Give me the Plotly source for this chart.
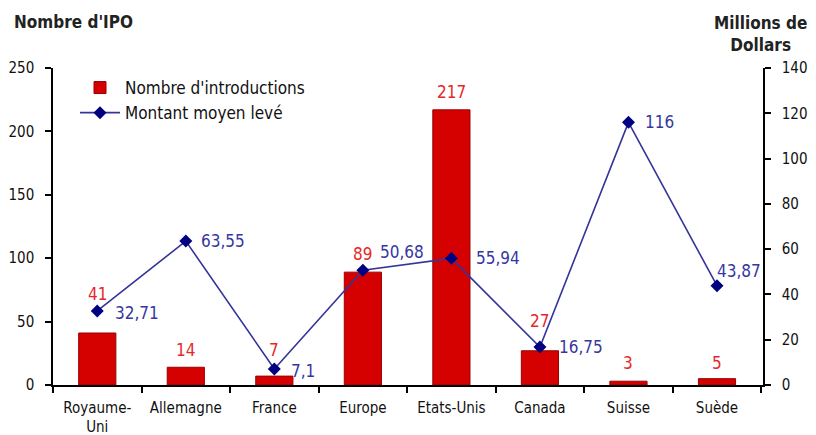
import plotly.graph_objects as go

categories = ["Royaume-<br>Uni", "Allemagne", "France", "Europe", "Etats-Unis", "Canada", "Suisse", "Suède"]
nombre_ipo = [41, 14, 7, 89, 217, 27, 3, 5]
montant_moyen = [32.71, 63.55, 7.1, 50.68, 55.94, 16.75, 116, 43.87]
montant_labels = ["32,71", "63,55", "7,1", "50,68", "55,94", "16,75", "116", "43,87"]

# label offsets (style only, in pixels)
bar_label_shift = [39, 17, 26, 18, 18, 30, 18, 16]
line_label_dx = [16, 13, 15, 15, 23, 17, 15, -2]
line_label_dy = [-2, 0, -2, 18, 0, 0, 0, 15]

FONT = "DejaVu Sans Condensed, DejaVu Sans, sans-serif"
PLOT_L, PLOT_R, PLOT_T, PLOT_B = 53, 763, 68, 385
PW, PH = PLOT_R - PLOT_L, PLOT_B - PLOT_T


def px(ax):
    return (ax - PLOT_L) / PW


def py(ay):
    return (PLOT_B - ay) / PH


fig = go.Figure()
fig.add_trace(go.Bar(
    x=categories, y=nombre_ipo, name="Nombre d'introductions",
    marker=dict(color="#d50000", line=dict(color="#9a0000", width=1)),
    width=0.42,
))
fig.add_trace(go.Scatter(
    x=categories, y=montant_moyen, name="Montant moyen levé", yaxis="y2",
    mode="lines+markers",
    line=dict(color="#34349a", width=1.6),
    marker=dict(symbol="diamond", size=10, color="#000080"),
    cliponaxis=False,
))

annotations = []
for c, v, s in zip(categories, nombre_ipo, bar_label_shift):
    annotations.append(dict(x=c, y=v, xref="x", yref="y", text=str(v), showarrow=False,
                            xanchor="center", yanchor="middle", yshift=s,
                            font=dict(color="#e8262a", size=17, family=FONT)))
for c, v, t, dx, dy in zip(categories, montant_moyen, montant_labels, line_label_dx, line_label_dy):
    annotations.append(dict(x=c, y=v, xref="x", yref="y2", text=t, showarrow=False,
                            xanchor="left", yanchor="middle", xshift=dx, yshift=dy,
                            font=dict(color="#3636a0", size=17, family=FONT)))
annotations.append(dict(text="<b>Nombre d'IPO</b>", x=px(12), y=py(22), xref="paper", yref="paper",
                        showarrow=False, xanchor="left", yanchor="middle",
                        font=dict(size=17, family=FONT, color="#222")))
annotations.append(dict(text="<b>Millions de<br>Dollars</b>", x=px(760), y=py(34), xref="paper", yref="paper",
                        showarrow=False, xanchor="center", yanchor="middle",
                        font=dict(size=17, family=FONT, color="#222")))

# page body has an 8px margin, so shrink the figure to keep the plot in place
fig.update_layout(
    width=808, height=427,
    margin=dict(l=PLOT_L - 8, r=816 - PLOT_R, t=PLOT_T - 8, b=435 - PLOT_B, autoexpand=False),
    paper_bgcolor="white", plot_bgcolor="white",
    font=dict(family=FONT, size=15, color="#111"),
    showlegend=True,
    legend=dict(x=px(75), y=py(70), xanchor="left", yanchor="top",
                bgcolor="rgba(0,0,0,0)", font=dict(size=17, family=FONT),
                tracegroupgap=0, itemwidth=40),
    xaxis=dict(showline=True, linecolor="#000", linewidth=1.5, automargin=False,
               ticks="outside", ticklen=6, tickcolor="#000", tickwidth=1.5,
               tickson="boundaries", ticklabelstandoff=8,
               showgrid=False, tickfont=dict(size=15)),
    yaxis=dict(range=[0, 250], dtick=50, showline=True, linecolor="#000", linewidth=1.5,
               automargin=False,
               ticks="outside", ticklen=6, tickcolor="#000", tickwidth=1.5, ticklabelstandoff=8,
               showgrid=False, zeroline=False, tickfont=dict(size=15)),
    yaxis2=dict(range=[0, 140], dtick=20, overlaying="y", side="right", automargin=False,
                showline=True, linecolor="#000", linewidth=1.5,
                ticks="outside", ticklen=6, tickcolor="#000", tickwidth=1.5, ticklabelstandoff=8,
                showgrid=False, zeroline=False, tickfont=dict(size=15)),
    annotations=annotations,
)

fig.write_html("out.html")
